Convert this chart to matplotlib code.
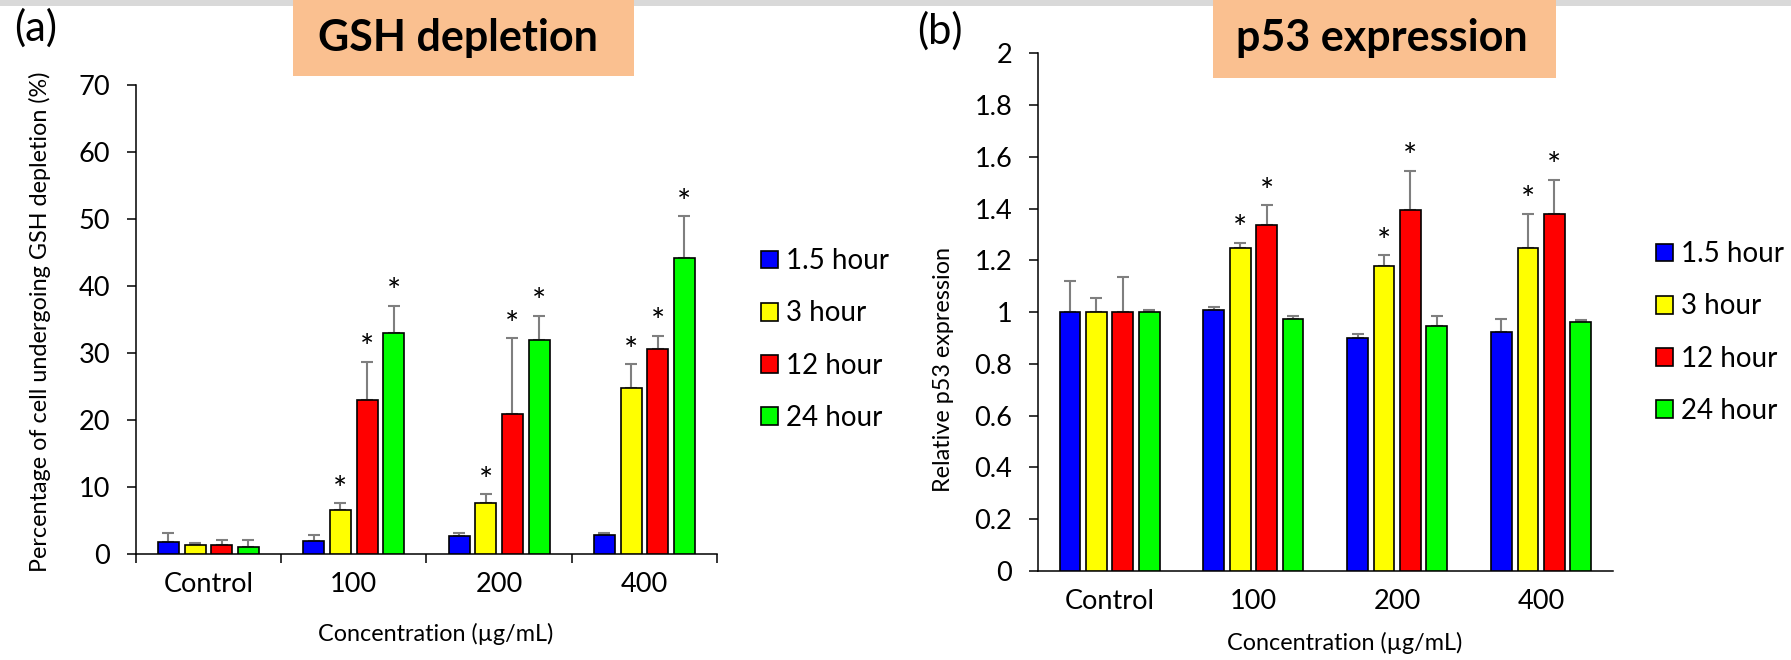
import matplotlib
matplotlib.use("Agg")
import matplotlib.pyplot as plt
from matplotlib.patches import Patch, Rectangle
import numpy as np

plt.rcParams['font.family'] = ['Lato', 'DejaVu Sans']

# Categories and series
categories = ['Control', '100', '200', '400']
series_labels = ['1.5 hour', '3 hour', '12 hour', '24 hour']
series_colors = ['#0000FF', '#FFFF00', '#FF0000', '#00FF00']

# (a) GSH depletion (%), mean and SD per time point
gsh_15h = [1.75, 1.95, 2.65, 2.9]
gsh_3h = [1.35, 6.55, 7.65, 24.85]
gsh_12h = [1.4, 23.0, 20.95, 30.55]
gsh_24h = [1.0, 33.0, 32.0, 44.25]
gsh_sd_15h = [1.35, 0.85, 0.5, 0.3]
gsh_sd_3h = [0.35, 1.0, 1.3, 3.5]
gsh_sd_12h = [0.65, 5.7, 11.25, 2.05]
gsh_sd_24h = [1.05, 4.05, 3.55, 6.15]
gsh_sig = [[0, 0, 0, 0], [0, 1, 1, 1], [0, 1, 1, 1], [0, 1, 1, 1]]

# (b) relative p53 expression
p53_15h = [1.0, 1.01, 0.902, 0.924]
p53_3h = [1.0, 1.249, 1.18, 1.249]
p53_12h = [1.0, 1.335, 1.395, 1.381]
p53_24h = [1.0, 0.974, 0.946, 0.961]
p53_sd_15h = [0.122, 0.011, 0.013, 0.048]
p53_sd_3h = [0.054, 0.02, 0.039, 0.132]
p53_sd_12h = [0.135, 0.078, 0.152, 0.131]
p53_sd_24h = [0.01, 0.011, 0.039, 0.009]
p53_sig = [[0, 0, 0, 0], [0, 1, 1, 1], [0, 1, 1, 1], [0, 0, 0, 0]]

W, H = 1791, 660
fig = plt.figure(figsize=(W / 100, H / 100), dpi=100)

# grey strip on top and the peach title boxes
fig.add_artist(Rectangle((0, 1 - 6 / H), 1, 6 / H, transform=fig.transFigure,
                         facecolor='#D9D9D9', edgecolor='none'))
fig.add_artist(Rectangle((293 / W, 1 - 76 / H), 341 / W, 76 / H, transform=fig.transFigure,
                         facecolor='#FAC090', edgecolor='none'))
fig.add_artist(Rectangle((1213 / W, 1 - 78 / H), 343 / W, 78 / H, transform=fig.transFigure,
                         facecolor='#FAC090', edgecolor='none'))
fig.text(458 / W, 1 - 38 / H, 'GSH depletion', fontsize=31, fontweight='bold',
         ha='center', va='center')
fig.text(1382 / W, 1 - 38 / H, 'p53 expression', fontsize=31, fontweight='bold',
         ha='center', va='center')
fig.text(36 / W, 1 - 28 / H, '(a)', fontsize=30, ha='center', va='center')
fig.text(940 / W, 1 - 31 / H, '(b)', fontsize=30, ha='center', va='center')

x = np.arange(len(categories))
bar_w = 0.1445
step = 0.1835


def draw_panel(ax, means, sds, sig, ymax, yticks, ticklabels):
    for i, (m, s) in enumerate(zip(means, sds)):
        xi = x + (i - 1.5) * step
        ax.bar(xi, m, width=bar_w, color=series_colors[i], edgecolor='black',
               linewidth=1.2, zorder=3)
        ax.errorbar(xi, m, yerr=[np.zeros(len(m)), s], fmt='none', ecolor='#7F7F7F',
                    elinewidth=1.5, capsize=4.5, capthick=1.5, zorder=2)
        for j in range(len(m)):
            if sig[i][j]:
                ax.annotate('*', (xi[j], m[j] + s[j]), xytext=(0, 2.5),
                            textcoords='offset points', ha='center', va='baseline',
                            fontsize=24)
    ax.set_xlim(-0.5, 3.5)
    ax.set_ylim(0, ymax)
    ax.set_yticks(yticks)
    ax.set_yticklabels(ticklabels)
    ax.set_xticks(x)
    ax.set_xticklabels(categories)
    ax.spines['top'].set_visible(False)
    ax.spines['right'].set_visible(False)
    ax.spines['left'].set_linewidth(1.1)
    ax.spines['bottom'].set_linewidth(1.1)
    ax.tick_params(axis='y', direction='out', length=6.3, width=1.1, labelsize=19.5, pad=12)
    ax.tick_params(axis='x', which='major', length=0, labelsize=19.5, pad=13)


ax_a = fig.add_axes([135.7 / W, 1 - 554 / H, (717 - 135.7) / W, (554 - 85) / H])
draw_panel(ax_a, [gsh_15h, gsh_3h, gsh_12h, gsh_24h],
           [gsh_sd_15h, gsh_sd_3h, gsh_sd_12h, gsh_sd_24h], gsh_sig,
           70, np.arange(0, 71, 10), [str(v) for v in range(0, 71, 10)])
ax_a.set_xticks(np.arange(-0.5, 3.6, 1), minor=True)
ax_a.tick_params(axis='x', which='minor', direction='out', length=6.5, width=1.1)

p53_ticks = np.round(np.arange(0, 2.01, 0.2), 1)
p53_labels = ['0' if v == 0 else ('1' if v == 1 else ('2' if v == 2 else f'{v:.1f}'))
              for v in p53_ticks]
ax_b = fig.add_axes([1037.7 / W, 1 - 571 / H, (1613 - 1037.7) / W, (571 - 53.3) / H])
draw_panel(ax_b, [p53_15h, p53_3h, p53_12h, p53_24h],
           [p53_sd_15h, p53_sd_3h, p53_sd_12h, p53_sd_24h], p53_sig,
           2, p53_ticks, p53_labels)

# axis titles
fig.text(40 / W, 1 - 322 / H, 'Percentage of cell undergoing GSH depletion (%)',
         rotation=90, fontsize=16.8, ha='center', va='center')
fig.text(436 / W, 1 - 634 / H, 'Concentration (µg/mL)', fontsize=16.8,
         ha='center', va='center')
fig.text(943 / W, 1 - 370 / H, 'Relative p53 expression', rotation=90, fontsize=16.8,
         ha='center', va='center')
fig.text(1345 / W, 1 - 643 / H, 'Concentration (µg/mL)', fontsize=16.8,
         ha='center', va='center')

# legends
handles = [Patch(facecolor=c, edgecolor='black', linewidth=1.2, label=l)
           for c, l in zip(series_colors, series_labels)]
for lx, ly in [(761, 339.5), (1655.7, 332.5)]:
    fig.legend(handles=handles, loc='center left', bbox_to_anchor=(lx / W, 1 - ly / H),
               frameon=False, fontsize=20, handlelength=0.61, handleheight=0.61,
               handletextpad=0.3, labelspacing=0.94, borderpad=0, borderaxespad=0)

fig.savefig('out.png', dpi=100)
